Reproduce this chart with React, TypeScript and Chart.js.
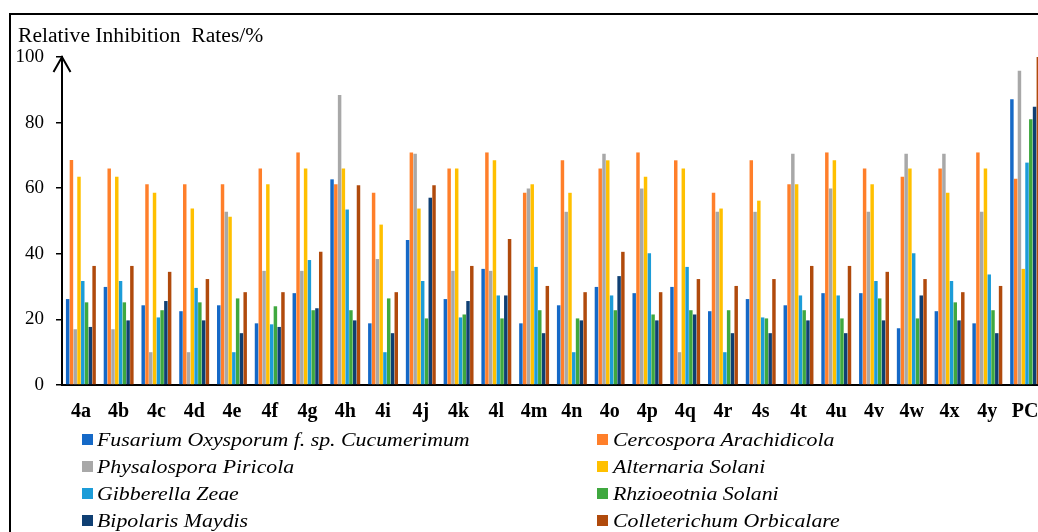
import React, { useEffect, useRef } from "react";
import { Chart, registerables } from "chart.js";

Chart.register(...registerables);

const categories = ["4a","4b","4c","4d","4e","4f","4g","4h","4i","4j","4k","4l","4m","4n","4o","4p","4q","4r","4s","4t","4u","4v","4w","4x","4y","PC"];

const seriesNames = [
  "Fusarium Oxysporum f. sp. Cucumerimum",
  "Cercospora Arachidicola",
  "Physalospora Piricola",
  "Alternaria Solani",
  "Gibberella Zeae",
  "Rhzioeotnia Solani",
  "Bipolaris Maydis",
  "Colleterichum Orbicalare",
];

const seriesColors = ["#1569C7", "#FF7F2A", "#A8A8A8", "#FFC000", "#1C9CD8", "#3FA83F", "#0F3F73", "#B04A0C"];

const fusarium = [26.2, 29.9, 24.3, 22.5, 24.3, 18.8, 28, 62.7, 18.8, 44.2, 26.2, 35.4, 18.8, 24.3, 29.9, 28, 29.9, 22.5, 26.2, 24.3, 28, 28, 17.3, 22.5, 18.8, 87.1];
const cercospora = [68.6, 66, 61.2, 61.2, 61.2, 66, 70.9, 61.2, 58.6, 70.9, 66, 70.9, 58.6, 68.5, 66, 70.9, 68.5, 58.6, 68.5, 61.2, 70.9, 66, 63.5, 66, 70.9, 62.9];
const physalospora = [17, 17, 10, 10, 52.8, 34.8, 34.8, 88.4, 38.4, 70.5, 34.8, 34.8, 59.9, 52.8, 70.5, 59.9, 10, 52.8, 52.8, 70.5, 59.9, 52.8, 70.5, 70.5, 52.8, 95.8];
const alternaria = [63.5, 63.5, 58.6, 53.8, 51.3, 61.2, 66, 66, 48.9, 53.8, 66, 68.5, 61.2, 58.6, 68.5, 63.5, 66, 53.8, 56.2, 61.2, 68.5, 61.2, 66, 58.6, 66, 35.4];
const gibberella = [31.7, 31.7, 20.6, 29.6, 10, 18.5, 38.1, 53.5, 10, 31.7, 20.6, 27.3, 36, 10, 27.3, 40.2, 36, 10, 20.6, 27.3, 27.3, 31.7, 40.2, 31.7, 33.7, 67.8];
const rhzioeotnia = [25.2, 25.2, 22.8, 25.2, 26.4, 24, 22.8, 22.8, 26.4, 20.3, 21.5, 20.3, 22.8, 20.3, 22.8, 21.5, 22.8, 22.8, 20.3, 22.8, 20.3, 26.4, 20.3, 25.2, 22.8, 81];
const bipolaris = [17.7, 19.7, 25.6, 19.7, 15.8, 17.7, 23.4, 19.7, 15.8, 57.1, 25.6, 27.3, 15.8, 19.7, 33.2, 19.7, 21.5, 15.8, 15.8, 19.7, 15.8, 19.7, 27.3, 19.7, 15.8, 84.8];
const colleterichum = [36.3, 36.3, 34.5, 32.3, 28.3, 28.3, 40.6, 60.9, 28.3, 60.9, 36.3, 44.5, 30.2, 28.3, 40.6, 28.3, 32.3, 30.2, 32.3, 36.3, 36.3, 34.5, 32.3, 28.3, 30.2, 100];

const seriesValues = [fusarium, cercospora, physalospora, alternaria, gibberella, rhzioeotnia, bipolaris, colleterichum];

const yTicks = [0, 20, 40, 60, 80, 100];
const titleText = "Relative Inhibition  Rates/%";

const SERIF = "'Liberation Serif', 'Times New Roman', serif";

const arrowPlugin = {
  id: "yArrow",
  afterDraw(chart: any) {
    const { ctx, chartArea } = chart;
    const x = chartArea.left;
    const top = chartArea.top;
    ctx.save();
    ctx.strokeStyle = "#000";
    ctx.lineWidth = 2;
    ctx.beginPath();
    ctx.moveTo(x - 8.5, top + 15);
    ctx.lineTo(x, top);
    ctx.lineTo(x + 8.5, top + 15);
    ctx.stroke();
    ctx.restore();
  },
};

export default function App() {
  const canvasRef = useRef<HTMLCanvasElement | null>(null);

  useEffect(() => {
    if (!canvasRef.current) return;
    const chart = new Chart(canvasRef.current, {
      type: "bar",
      data: {
        labels: categories,
        datasets: seriesNames.map((name, i) => ({
          label: name,
          data: seriesValues[i],
          backgroundColor: seriesColors[i],
          borderWidth: 0,
          barPercentage: 0.92,
          categoryPercentage: 0.8,
        })),
      },
      options: {
        responsive: false,
        animation: false,
        layout: { padding: { top: 57, right: 6, left: 0, bottom: 0 } },
        plugins: { legend: { display: false }, tooltip: { enabled: false }, title: { display: false } },
        scales: {
          x: {
            grid: { display: false },
            border: { display: true, color: "#000", width: 2 },
            ticks: {
              color: "#000",
              padding: 7,
              maxRotation: 0,
              autoSkip: false,
              font: { family: SERIF, size: 20, weight: "bold" },
            },
            afterFit(scale: any) {
              scale.height = 147;
            },
          },
          y: {
            min: 0,
            max: 100,
            afterBuildTicks(scale: any) {
              scale.ticks = yTicks.map((v) => ({ value: v }));
            },
            grid: { display: true, drawOnChartArea: false, drawTicks: true, tickLength: 6, color: "#000", lineWidth: 1.5 },
            border: { display: true, color: "#000", width: 2 },
            ticks: {
              color: "#000",
              padding: 12,
              font: { family: SERIF, size: 19 },
            },
            afterFit(scale: any) {
              scale.width = 62;
            },
          },
        },
      },
      plugins: [arrowPlugin],
    } as any);
    return () => chart.destroy();
  }, []);

  const rows = [0, 1, 2, 3];
  return (
    <div style={{ position: "fixed", left: 0, top: 0, width: 1038, height: 532, overflow: "hidden", background: "#fff" }}>
      <div
        style={{
          position: "absolute",
          left: 9,
          top: 13,
          width: 1200,
          height: 700,
          borderLeft: "2px solid #000",
          borderTop: "2px solid #000",
        }}
      />
      <canvas
        ref={canvasRef}
        width={1050}
        height={532}
        style={{ position: "absolute", left: 0, top: 0, width: 1050, height: 532, display: "block" }}
      />
      <div
        style={{
          position: "absolute",
          left: 18,
          top: 25,
          fontFamily: SERIF,
          fontSize: 20,
          lineHeight: "20px",
          whiteSpace: "pre",
          color: "#000",
          transform: "scaleX(1.08)",
          transformOrigin: "left center",
        }}
      >
        {titleText}
      </div>
      {rows.map((r) =>
        [0, 1].map((c) => {
          const idx = r * 2 + c;
          return (
            <div
              key={idx}
              style={{
                position: "absolute",
                left: c === 0 ? 82 : 597,
                top: 439.5 + r * 27 - 13.5,
                height: 27,
                display: "flex",
                alignItems: "center",
                whiteSpace: "nowrap",
              }}
            >
              <div style={{ width: 11, height: 11, background: seriesColors[idx], marginRight: c === 0 ? 4 : 5 }} />
              <span
                style={{
                  fontFamily: SERIF,
                  fontStyle: "italic",
                  fontSize: 19,
                  lineHeight: "27px",
                  color: "#000",
                  display: "inline-block",
                  transform: "scaleX(1.15)",
                  transformOrigin: "left center",
                }}
              >
                {seriesNames[idx]}
              </span>
            </div>
          );
        })
      )}
    </div>
  );
}
